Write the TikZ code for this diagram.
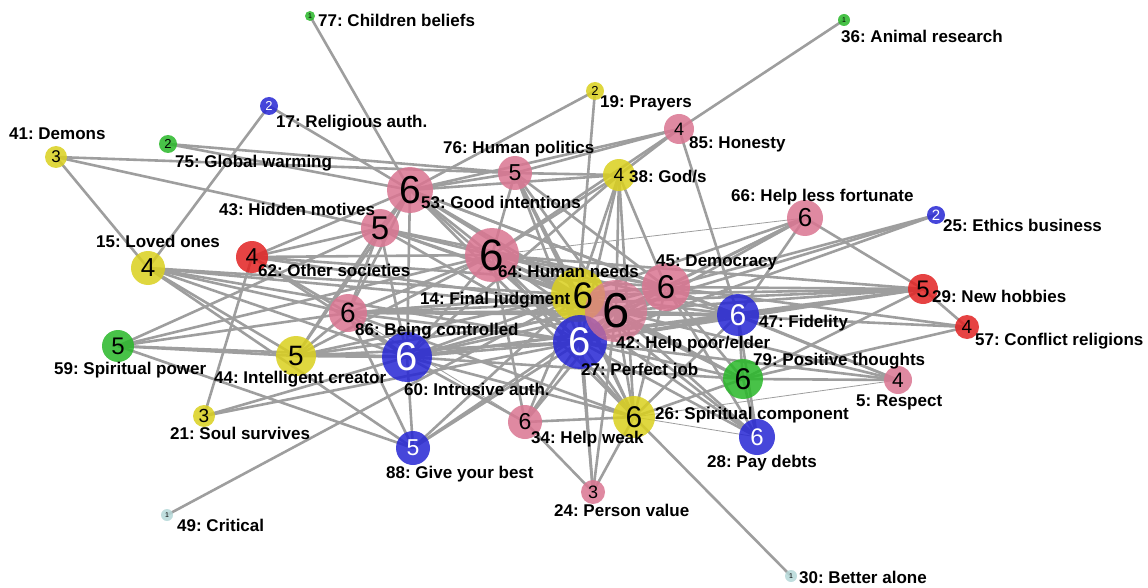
\documentclass[tikz,border=0pt]{standalone}
\usepackage{fontspec}
\setmainfont{Liberation Sans}
\frenchspacing
\pgfdeclarelayer{background}
\pgfsetlayers{background,main}
\definecolor{vpink}{RGB}{218,118,146}
\definecolor{vyellow}{RGB}{218,208,32}
\definecolor{vred}{RGB}{226,36,36}
\definecolor{vblue}{RGB}{40,40,212}
\definecolor{vgreen}{RGB}{42,184,42}
\definecolor{vcyan}{RGB}{182,216,216}
\definecolor{edgegray}{RGB}{158,158,158}
\newcommand\fs[1]{\fontsize{#1}{#1}\selectfont}
\begin{document}
\begin{tikzpicture}[x=1pt,y=-1pt,
  vtx/.style={circle,inner sep=0pt,fill opacity=0.86,text opacity=1},
  pinkv/.style={vtx,fill=vpink,text=black},
  yelv/.style={vtx,fill=vyellow,text=black},
  redv/.style={vtx,fill=vred,text=black},
  bluev/.style={vtx,fill=vblue,text=white},
  grnv/.style={vtx,fill=vgreen,text=black},
  cyanv/.style={vtx,fill=vcyan,text=black},
  digit/.style={inner sep=0pt},
  edge/.style={draw=edgegray,line width=2.6pt},
  thinedge/.style={draw=edgegray,line width=0.8pt},
  lbl/.style={anchor=base west,inner sep=0pt,font=\fs{17}\bfseries}]
\useasboundingbox (0,0) rectangle (1148,588);

% vertices
\node[grnv,minimum size=10pt,font=\fs{7}] (n77) at (310,16) {1};
\node[grnv,minimum size=12pt,font=\fs{7}] (n36) at (844,20) {1};
\node[bluev,minimum size=18pt,font=\fs{13}] (n17) at (269,106) {2};
\node[yelv,minimum size=18pt,font=\fs{13}] (n19) at (595,91) {2};
\node[pinkv,minimum size=30pt,font=\fs{18}] (n85) at (679,129) {4};
\node[yelv,minimum size=22pt,font=\fs{17}] (n41) at (56,157) {3};
\node[grnv,minimum size=18pt,font=\fs{13}] (n75) at (168,144) {2};
\node[pinkv,minimum size=34pt,font=\fs{23}] (n76) at (515,173) {5};
\node[yelv,minimum size=32pt,font=\fs{19}] (n38) at (619,175) {4};
\node[pinkv,minimum size=46pt,font=\fs{39}] (n53) at (410,190) {6};
\node[pinkv,minimum size=38pt,font=\fs{33}] (n43) at (380,228) {5};
\node[pinkv,minimum size=36pt,font=\fs{26}] (n66) at (805,218) {6};
\node[bluev,minimum size=18pt,font=\fs{15}] (n25) at (936,215) {2};
\node[yelv,minimum size=34pt,font=\fs{26}] (n15) at (148,268) {4};
\node[redv,minimum size=32pt,font=\fs{23}] (n62) at (252,257) {4};
\node[pinkv,minimum size=54pt,font=\fs{44}] (n64) at (492,255) {6};
\node[pinkv,minimum size=48pt,font=\fs{33}] (n45) at (666,287) {6};
\node[redv,minimum size=30pt,font=\fs{24}] (n29) at (923,289) {5};
\node[redv,minimum size=24pt,font=\fs{19}] (n57) at (967,327) {4};
\node[bluev,minimum size=42pt,font=\fs{30}] (n47) at (738,315) {6};
\node[pinkv,minimum size=38pt,font=\fs{28}] (n86) at (348,313) {6};
\node[grnv,minimum size=32pt,font=\fs{24}] (n59) at (118,346) {5};
\node[yelv,minimum size=40pt,font=\fs{28}] (n44) at (296,356) {5};
\node[bluev,minimum size=50pt,font=\fs{40}] (n60) at (407,357) {6};
\node[grnv,minimum size=40pt,font=\fs{30}] (n79) at (743,379) {6};
\node[pinkv,minimum size=28pt,font=\fs{21}] (n5) at (898,380) {4};
\node[yelv,minimum size=22pt,font=\fs{19}] (n21) at (204,416) {3};
\node[pinkv,minimum size=34pt,font=\fs{23}] (n34) at (525,422) {6};
\node[yelv,minimum size=42pt,font=\fs{30}] (n26) at (634,417) {6};
\node[bluev,minimum size=36pt,font=\fs{24}] (n28) at (757,437) {6};
\node[bluev,minimum size=34pt,font=\fs{23}] (n88) at (413,448) {5};
\node[pinkv,minimum size=24pt,font=\fs{18}] (n24) at (593,492) {3};
\node[cyanv,minimum size=12pt,font=\fs{7}] (n49) at (167,515) {1};
\node[cyanv,minimum size=12pt,font=\fs{7}] (n30) at (791,576) {1};
% the three overlapping hubs: discs first, their digits on top
\node[yelv,minimum size=54pt] (n14) at (578,295) {};
\node[bluev,minimum size=54pt] (n27) at (580,342) {};
\node[pinkv,minimum size=62pt,fill opacity=0.72] (n42) at (616,311) {};
\node[digit,font=\fs{37},text=black] (d14) at (583,296) {6};
\node[digit,font=\fs{40},text=white] (d27) at (n27) {6};
\node[digit,font=\fs{49},text=black] (d42) at (n42) {6};

% connections, drawn beneath the vertices
\begin{pgfonlayer}{background}
\foreach \a/\b in {77/53,36/85,17/15,17/53,19/53,19/14,41/15,41/76,41/43,75/76,75/53,
  49/14,30/26,21/62,21/60,21/27,
  15/14,15/42,15/27,15/86,15/60,15/44,15/88,
  62/43,62/53,62/64,62/45,62/42,62/86,62/60,
  59/43,59/86,59/64,59/44,59/60,59/88,
  44/43,44/86,44/64,44/60,44/27,44/14,44/42,44/53,
  88/60,88/27,88/14,88/42,88/86,
  86/53,86/43,86/64,86/60,86/14,86/27,86/42,86/45,86/47,86/26,86/29,
  60/53,60/43,60/64,60/14,60/27,60/42,60/45,60/47,60/79,60/26,60/34,60/29,60/38,
  43/53,43/64,43/14,43/27,43/42,43/45,
  53/76,53/64,53/14,53/42,53/27,53/45,53/38,53/85,53/47,53/26,
  76/64,76/14,76/42,76/85,76/38,76/45,76/27,76/26,
  85/38,85/64,85/47,
  38/64,38/14,38/27,38/42,38/26,38/45,
  64/14,64/42,64/27,64/45,64/47,64/79,64/26,64/34,64/28,64/29,
  14/42,14/27,14/45,14/47,14/79,14/26,14/34,14/24,14/28,14/29,14/66,
  42/27,42/45,42/47,42/79,42/26,42/34,42/24,42/28,42/5,42/57,42/29,42/66,42/25,
  27/45,27/47,27/79,27/26,27/34,27/24,27/28,27/5,27/29,27/66,27/25,
  45/47,45/79,45/26,45/28,45/29,45/57,45/66,45/25,45/5,
  47/79,47/26,47/28,47/29,47/66,47/5,
  79/26,79/28,79/5,79/57,79/29,
  26/34,26/24,34/24,66/29,29/57}
  \draw[edge] (n\a.center) -- (n\b.center);
\foreach \a/\b in {64/66,86/34,26/5,26/28}
  \draw[thinedge] (n\a.center) -- (n\b.center);
\end{pgfonlayer}

% labels
\node[lbl] (l77) at (318,27) {77: Children beliefs};
\node[lbl] (l36) at (841,43) {36: Animal research};
\node[lbl] (l17) at (276,128) {17: Religious auth.};
\node[lbl] (l19) at (600,108) {19: Prayers};
\node[lbl] (l85) at (689,149) {85: Honesty};
\node[lbl] (l41) at (9,140) {41: Demons};
\node[lbl] (l75) at (175,168) {75: Global warming};
\node[lbl] (l76) at (443,154) {76: Human politics};
\node[lbl] (l38) at (629,183) {38: God/s};
\node[lbl] (l53) at (421,208) {53: Good intentions};
\node[lbl] (l43) at (219,215) {43: Hidden motives};
\node[lbl] (l66) at (731,202) {66: Help less fortunate};
\node[lbl] (l25) at (943,232) {25: Ethics business};
\node[lbl] (l15) at (96,247) {15: Loved ones};
\node[lbl] (l62) at (258,276) {62: Other societies};
\node[lbl] (l64) at (498,277) {64: Human needs};
\node[lbl] (l45) at (656,266) {45: Democracy};
\node[lbl] (l14) at (420,304) {14: Final judgment};
\node[lbl] (l29) at (932,302) {29: New hobbies};
\node[lbl] (l57) at (975,345) {57: Conflict religions};
\node[lbl] (l47) at (759,327) {47: Fidelity};
\node[lbl] (l86) at (355,335) {86: Being controlled};
\node[lbl] (l42) at (616,348) {42: Help poor/elder};
\node[lbl] (l59) at (54,374) {59: Spiritual power};
\node[lbl] (l44) at (214,383) {44: Intelligent creator};
\node[lbl] (l60) at (404,395) {60: Intrusive auth.};
\node[lbl] (l27) at (581,375) {27: Perfect job};
\node[lbl] (l79) at (753,365) {79: Positive thoughts};
\node[lbl] (l5) at (856,406) {5: Respect};
\node[lbl] (l21) at (170,439) {21: Soul survives};
\node[lbl] (l34) at (531,443) {34: Help weak};
\node[lbl] (l26) at (655,419) {26: Spiritual component};
\node[lbl] (l28) at (707,467) {28: Pay debts};
\node[lbl] (l88) at (386,478) {88: Give your best};
\node[lbl] (l24) at (554,516) {24: Person value};
\node[lbl] (l49) at (177,531) {49: Critical};
\node[lbl] (l30) at (799,583) {30: Better alone};
\end{tikzpicture}
\end{document}
